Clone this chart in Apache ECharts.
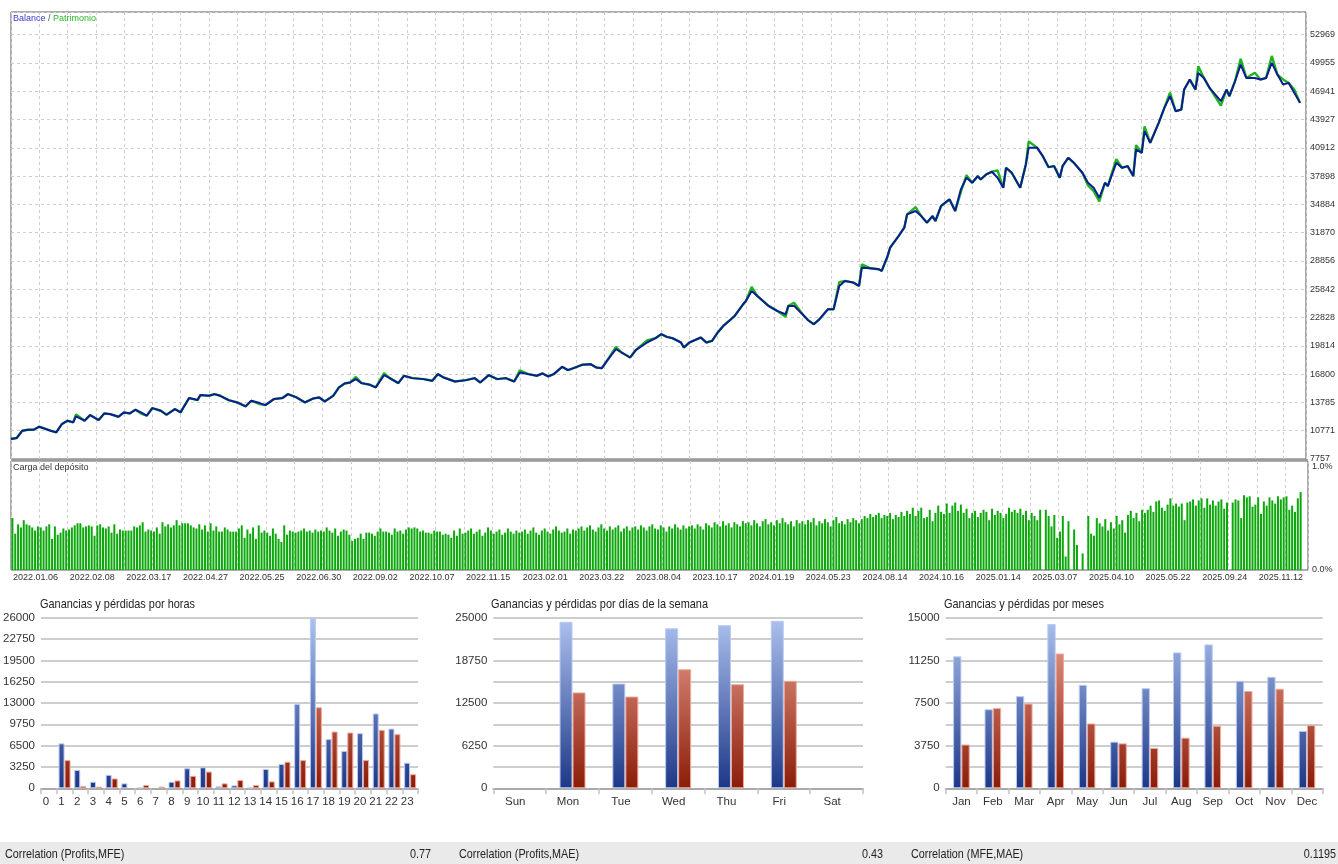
<!DOCTYPE html>
<html>
<head>
<meta charset="utf-8">
<script src="https://cdn.jsdelivr.net/npm/echarts/dist/echarts.min.js"></script>
<style>html,body{margin:0;padding:0;background:#fff}#c{width:1338px;height:864px}</style>
</head>
<body>
<div id="c"></div>
<script>
// ---------- DATA ----------
const dateLabels = ['2022.01.06','2022.02.08','2022.03.17','2022.04.27','2022.05.25','2022.06.30','2022.09.02','2022.10.07','2022.11.15','2023.02.01','2023.03.22','2023.08.04','2023.10.17','2024.01.19','2024.05.23','2024.08.14','2024.10.16','2025.01.14','2025.03.07','2025.04.10','2025.05.22','2025.09.24','2025.11.12'];
const yTickLabels = ['7757','10771','13785','16800','19814','22828','25842','28856','31870','34884','37898','40912','43927','46941','49955','52969'];

// deal index positions of the traced balance / equity points
const balanceX = [0,2,4,6,8,10,12,14,16,18,20,22,23,26,28,31,33,35,38,40,42,44,46,48,50,53,55,58,60,61,63,66,67,70,72,74,77,80,83,85,88,90,93,96,98,101,104,107,109,111,114,116,118,120,122,124,127,129,132,134,137,139,142,146,149,151,153,157,161,164,166,169,172,175,178,180,183,186,188,190,192,195,197,199,202,205,207,209,211,214,216,219,221,225,228,230,232,234,237,238,240,244,246,248,250,252,254,256,259,260,262,264,266,268,271,274,275,277,280,282,284,286,289,291,293,295,298,300,301,304,307,308,310,311,314,316,317,320,322,324,326,327,329,332,334,336,338,340,342,343,345,347,349,351,352,354,357,359,360,363,365,367,369,371,372,374,376,379,381,383,385,387,388,391,393,395,397,398,400,401,403,406,408,410,412,414,415,417,419,420,422,424,428,430,431,433,435,437,440,442,444,446,448,450,452,454,456];
const balance = [9885,9991,10771,10877,10877,11197,10984,10771,10594,11480,
11835,11658,12296,11835,12438,11906,12615,12544,12260,12721,
12615,13005,12721,12367,13182,12898,12473,13076,12721,13253,
14246,14033,14565,14494,14672,14494,14033,13785,13360,13962,
13714,13501,14139,14246,14672,14317,13785,14210,14317,13892,
14494,15380,15806,15912,16267,15841,15664,15380,16693,16374,
15841,16622,16374,16267,16090,16800,16445,16019,16161,16374,
15912,16693,16267,16374,16019,16977,16800,16622,16871,16551,
16800,17580,17225,17438,17792,17863,17508,17438,18288,19459,
19104,18572,19353,20168,20629,21054,20771,20629,20168,19636,
20168,20700,20168,20345,21233,21942,22473,23005,24246,24601,
25665,25133,24601,24069,23537,23182,24069,24069,23182,22544,
22119,22651,23715,23715,26197,26729,26552,26197,28146,28075,
27969,27792,29282,30275,31515,32402,33821,34175,33643,32934,
33643,33111,34707,35416,34175,36480,37721,37189,37898,37543,
38076,38359,37721,36657,38785,38253,36657,39140,40912,40912,
40026,38856,38962,37721,38962,39849,39317,38253,37189,36657,
35593,37189,36834,39317,38785,38962,37898,40735,40380,42686,
41444,43572,45168,46409,44813,44990,47118,48182,47118,48891,
48359,47296,45877,47118,46409,48005,49778,48359,48359,48182,
48359,49955,48714,47650,47827,46764,45700];
const equity = [9885,9991,10771,10877,10877,11197,10984,10771,10594,11480,
11835,11658,12500,11835,12438,11906,12615,12544,12260,12721,
12615,13005,12600,12367,13182,12898,12473,13076,12721,13253,
14246,14033,14565,14494,14672,14494,14033,13785,13360,13962,
13600,13501,14139,14246,14672,14317,13785,14210,14317,13892,
14494,15380,15806,15912,16500,15841,15664,15380,16900,16374,
15841,16622,16374,16267,16090,16800,16445,16019,16161,16374,
15912,16693,16267,16374,16019,17200,16800,16622,16871,16551,
16800,17580,17225,17438,17792,17863,17508,17438,18288,19700,
19104,18572,19353,20400,20629,21054,20771,20629,20168,19636,
20168,20700,20168,20345,21233,21942,22473,23005,24246,24601,
26100,25133,24601,24069,23537,22900,24069,24400,23182,22544,
22119,22651,23715,23715,26600,26729,26552,26197,28500,28075,
27969,27792,29282,30275,31515,32402,33821,34600,33643,32934,
33643,33111,34707,35416,34175,36200,38000,37189,37898,37543,
38076,38359,38500,36657,38785,38253,36657,39140,41600,40912,
40026,38856,38962,37721,38962,39849,39317,38253,36900,36300,
35200,37189,36834,39700,38785,38962,37898,41200,40380,43200,
41444,43572,45168,46800,44813,44990,47118,48182,47118,49600,
48359,47296,45400,47118,46409,48005,50400,48359,48900,48182,
48359,50700,48714,48200,47827,47100,45700];

// deposit load (%), one value per deal
const depositLoad = [
0.50,0.35,0.44,0.41,0.48,0.44,0.43,0.41,0.38,0.42,0.41,0.38,0.42,0.44,0.30,0.42,0.34,0.36,0.40,0.38,
0.39,0.41,0.43,0.45,0.45,0.41,0.42,0.43,0.42,0.33,0.43,0.44,0.41,0.40,0.42,0.36,0.44,0.35,0.39,0.38,
0.38,0.38,0.38,0.42,0.41,0.43,0.46,0.37,0.39,0.38,0.37,0.41,0.35,0.46,0.42,0.44,0.41,0.43,0.48,0.43,
0.45,0.45,0.45,0.43,0.41,0.40,0.44,0.39,0.43,0.37,0.45,0.38,0.42,0.37,0.37,0.41,0.39,0.37,0.37,0.37,
0.40,0.43,0.31,0.39,0.35,0.41,0.30,0.43,0.36,0.38,0.36,0.33,0.40,0.35,0.30,0.27,0.43,0.34,0.38,0.37,
0.36,0.37,0.38,0.40,0.37,0.38,0.36,0.39,0.37,0.38,0.37,0.41,0.38,0.36,0.40,0.33,0.37,0.39,0.38,0.34,
0.28,0.30,0.31,0.35,0.30,0.36,0.36,0.35,0.33,0.37,0.40,0.37,0.37,0.36,0.34,0.40,0.37,0.38,0.35,0.39,
0.41,0.40,0.41,0.40,0.37,0.38,0.36,0.36,0.35,0.38,0.37,0.37,0.34,0.35,0.34,0.31,0.38,0.33,0.40,0.35,
0.36,0.38,0.40,0.35,0.37,0.39,0.33,0.36,0.41,0.38,0.35,0.37,0.39,0.34,0.36,0.40,0.37,0.35,0.38,0.36,
0.37,0.39,0.35,0.38,0.41,0.36,0.34,0.38,0.40,0.37,0.35,0.39,0.42,0.38,0.36,0.37,0.40,0.35,0.39,0.38,
0.40,0.42,0.38,0.41,0.43,0.39,0.37,0.41,0.44,0.40,0.38,0.42,0.39,0.41,0.43,0.37,0.40,0.42,0.38,0.41,
0.42,0.39,0.43,0.41,0.38,0.42,0.44,0.40,0.39,0.43,0.41,0.37,0.42,0.40,0.44,0.41,0.39,0.43,0.40,0.42,
0.43,0.40,0.44,0.42,0.39,0.45,0.43,0.41,0.46,0.44,0.42,0.47,0.43,0.45,0.41,0.46,0.44,0.42,0.47,0.45,
0.46,0.43,0.48,0.45,0.42,0.47,0.49,0.44,0.46,0.43,0.48,0.45,0.50,0.46,0.44,0.47,0.42,0.48,0.45,0.47,
0.44,0.48,0.46,0.50,0.43,0.47,0.45,0.49,0.46,0.42,0.48,0.51,0.45,0.47,0.44,0.49,0.46,0.50,0.48,0.45,
0.49,0.52,0.50,0.54,0.51,0.53,0.55,0.50,0.53,0.52,0.55,0.49,0.53,0.51,0.56,0.52,0.57,0.54,0.60,0.52,
0.57,0.60,0.50,0.51,0.58,0.47,0.55,0.62,0.56,0.54,0.64,0.55,0.62,0.65,0.57,0.63,0.55,0.59,0.50,0.55,
0.57,0.51,0.55,0.58,0.56,0.48,0.59,0.53,0.57,0.55,0.50,0.54,0.60,0.56,0.58,0.55,0.59,0.53,0.57,0.48,
0.55,0.52,0.48,0.58,0.00,0.58,0.52,0.42,0.53,0.31,0.37,0.52,0.13,0.47,0.00,0.39,0.24,0.00,0.16,0.00,
0.52,0.35,0.33,0.50,0.45,0.42,0.49,0.38,0.46,0.40,0.52,0.44,0.48,0.36,0.53,0.57,0.50,0.55,0.47,0.58,
0.55,0.58,0.62,0.56,0.66,0.67,0.60,0.57,0.63,0.69,0.62,0.64,0.61,0.64,0.48,0.65,0.66,0.68,0.62,0.67,
0.69,0.60,0.69,0.63,0.67,0.62,0.66,0.68,0.59,0.65,0.00,0.65,0.68,0.67,0.50,0.72,0.70,0.71,0.61,0.63,
0.70,0.54,0.66,0.62,0.70,0.67,0.64,0.71,0.68,0.70,0.71,0.58,0.62,0.56,0.69,0.75];

const hourCats = ['0','1','2','3','4','5','6','7','8','9','10','11','12','13','14','15','16','17','18','19','20','21','22','23'];
const hourProfit = [0,6850,2800,1000,2050,750,100,0,1000,3050,3200,300,450,100,2950,3700,12850,26000,7500,5700,8400,11400,9100,3900];
const hourLoss   = [0,4300,350,250,1500,0,500,250,1200,1900,2550,750,1250,500,1050,4050,4300,12350,8650,8500,4300,8900,8250,2150];

const dayCats = ['Sun','Mon','Tue','Wed','Thu','Fri','Sat'];
const dayProfit = [0,24400,15350,23450,23900,24550,0];
const dayLoss   = [0,14050,13450,17450,15250,15750,0];

const monthCats = ['Jan','Feb','Mar','Apr','May','Jun','Jul','Aug','Sep','Oct','Nov','Dec'];
const monthProfit = [11600,6950,8100,14450,9100,4100,8800,11950,12650,9450,9800,5050];
const monthLoss   = [3850,7050,7450,11850,5700,3950,3550,4450,5500,8550,8750,5550];

const chartTitles = ['Ganancias y pérdidas por horas','Ganancias y pérdidas por días de la semana','Ganancias y pérdidas por meses'];
const corrLabels = ['Correlation (Profits,MFE)','Correlation (Profits,MAE)','Correlation (MFE,MAE)'];
const corrValues = ['0.77','0.43','0.1195'];

// ---------- LAYOUT / STYLE ----------
const SMALL = '"Liberation Sans", Arial, sans-serif';
const Y_MIN = 7757, Y_STEP = 3014.1333333, Y_MAX = 55382;
const X_MAX = 458.1;
const BOT_TOP = 617.7, BOT_H = 170.6;
const bottomGrids = [
  {left: 40.7, width: 377.3, titleX: 40, bw: 6, max: 26000, step: 3250, labelStep: 3250, cats: hourCats, p: hourProfit, l: hourLoss, pad: 6},
  {left: 493.3, width: 369.7, titleX: 491, bw: 13, max: 25000, step: 3125, labelStep: 6250, cats: dayCats, p: dayProfit, l: dayLoss, pad: 9},
  {left: 945.7, width: 377, titleX: 944, bw: 8.3, max: 15000, step: 1875, labelStep: 3750, cats: monthCats, p: monthProfit, l: monthLoss, pad: 0}
];
const corrPos = [[5, 431], [459, 883], [911, 1336]];

function grad(c1, c2) {
  return new echarts.graphic.LinearGradient(0, BOT_TOP, 0, BOT_TOP + BOT_H,
    [{offset: 0, color: c1}, {offset: 1, color: c2}], true);
}
const dashed = {color: '#cfcfcf', type: [3, 3], width: 1};

const chart = echarts.init(document.getElementById('c'), null, {renderer: 'canvas'});

const grids = [
  {left: 11, top: 12, width: 1297, height: 447, show: true, borderColor: '#5c5c5c', borderWidth: 1},
  {left: 11, top: 461, width: 1297, height: 109, show: true, borderColor: '#5c5c5c', borderWidth: 1}
];
const xAxes = [
  {gridIndex: 0, type: 'value', min: 0, max: X_MAX, interval: 10,
   axisLine: {show: false}, axisTick: {show: false}, axisLabel: {show: false},
   splitLine: {show: true, lineStyle: dashed}},
  {gridIndex: 1, type: 'value', min: 0, max: X_MAX, interval: 10,
   axisLine: {show: false}, axisTick: {show: false},
   axisLabel: {show: true, align: 'left', margin: 3, padding: [0, 0, 0, 2], fontSize: 9, color: '#333', fontFamily: SMALL,
     formatter: function (v) {
       const r = Math.round(v);
       if (Math.abs(v - r) > 1e-6 || r % 20 !== 0) return '';
       return dateLabels[r / 20] || '';
     }},
   splitLine: {show: true, lineStyle: dashed}}
];
const yAxes = [
  {gridIndex: 0, type: 'value', position: 'right', min: Y_MIN, max: Y_MAX, interval: Y_STEP,
   axisLine: {show: false}, axisTick: {show: false},
   axisLabel: {margin: 4, fontSize: 9, color: '#333', fontFamily: SMALL,
     formatter: function (v) { return yTickLabels[Math.round((v - Y_MIN) / Y_STEP)] || ''; }},
   splitLine: {show: true, lineStyle: dashed}},
  {gridIndex: 1, type: 'value', position: 'right', min: 0, max: 1.05, interval: 1,
   axisLine: {show: false}, axisTick: {show: false},
   axisLabel: {margin: 4, fontSize: 9, color: '#333', fontFamily: SMALL,
     formatter: function (v) { return (Math.abs(v) < 1e-9 || Math.abs(v - 1) < 1e-9) ? v.toFixed(1) + '%' : ''; }},
   splitLine: {show: false}}
];
const series = [
  {type: 'line', xAxisIndex: 0, yAxisIndex: 0, name: 'Patrimonio', symbol: 'none', z: 2,
   lineStyle: {color: '#1db41d', width: 2.4}, itemStyle: {color: '#1db41d'},
   data: balanceX.map((x, i) => [x, equity[i]])},
  {type: 'line', xAxisIndex: 0, yAxisIndex: 0, name: 'Balance', symbol: 'none', z: 3,
   lineStyle: {color: '#0d1c96', width: 2}, itemStyle: {color: '#0d1c96'},
   data: balanceX.map((x, i) => [x, balance[i]])},
  {type: 'bar', xAxisIndex: 1, yAxisIndex: 1, barWidth: 2, itemStyle: {color: '#0ca80c'},
   data: depositLoad.map((v, i) => [i + 0.5, v])}
];
const titles = [
  {left: 13, top: 14, padding: 0,
   text: '{b|Balance} {s|/} {p|Patrimonio}',
   textStyle: {fontSize: 9, fontWeight: 'normal', fontFamily: SMALL,
     rich: {b: {color: '#3a3acb', fontSize: 9, fontFamily: SMALL},
            s: {color: '#555', fontSize: 9, fontFamily: SMALL},
            p: {color: '#27b827', fontSize: 9, fontFamily: SMALL}}}},
  {left: 13, top: 463, padding: 0, text: 'Carga del depósito',
   textStyle: {fontSize: 9, fontWeight: 'normal', color: '#333', fontFamily: SMALL}}
];

const graphics = [
  {type: 'rect', left: 11, top: 459, z: 100, shape: {width: 1297, height: 2}, style: {fill: '#9c9c9c'}},
  {type: 'rect', left: 0, top: 842, z: 0, shape: {width: 1338, height: 22}, style: {fill: '#eaeaea'}}
];

bottomGrids.forEach(function (g, k) {
  const gi = grids.length;
  grids.push({left: g.left, top: BOT_TOP, width: g.width, height: BOT_H});
  xAxes.push({gridIndex: gi, type: 'category', data: g.cats,
    axisLine: {show: true, lineStyle: {color: '#a9a9a9', width: 2}},
    axisTick: {show: true, length: 6, lineStyle: {color: '#c4c4c4', width: 1.5}},
    axisLabel: {interval: 0, margin: 8, fontSize: 11.5, color: '#333', fontFamily: SMALL, padding: [0, g.pad, 0, 0]},
    splitLine: {show: false}});
  yAxes.push({gridIndex: gi, type: 'value', min: 0, max: g.max, interval: g.step,
    axisLine: {show: false}, axisTick: {show: false},
    axisLabel: {margin: 6, fontSize: 11.5, color: '#333', fontFamily: SMALL,
      formatter: function (v) { return (Math.round(v) % g.labelStep === 0) ? String(Math.round(v)) : ''; }},
    splitLine: {show: true, lineStyle: {color: '#cdcdcd', width: 2}}});
  graphics.push({type: 'text', x: g.titleX, y: 604, scaleX: 0.81, z: 10,
    style: {text: chartTitles[k], fill: '#222', font: '13.5px ' + SMALL, textAlign: 'left', textVerticalAlign: 'middle'}});
  series.push({type: 'bar', xAxisIndex: gi, yAxisIndex: gi, barWidth: g.bw, barGap: '0%',
    itemStyle: {color: grad('#adc2ef', '#1c3786'), borderColor: '#b9caf2', borderWidth: 1},
    data: g.p.map(v => v === 0 ? '-' : v)});
  series.push({type: 'bar', xAxisIndex: gi, yAxisIndex: gi, barWidth: g.bw, barGap: '0%',
    itemStyle: {color: grad('#eea696', '#8a1c08'), borderColor: '#f0a898', borderWidth: 1},
    data: g.l.map(v => v === 0 ? '-' : v)});
});

corrLabels.forEach(function (t, i) {
  graphics.push({type: 'text', x: corrPos[i][0], y: 854, scaleX: 0.8, z: 10,
    style: {text: t, fill: '#222', font: '13.5px ' + SMALL, textAlign: 'left', textVerticalAlign: 'middle'}});
  graphics.push({type: 'text', x: corrPos[i][1], y: 854, scaleX: 0.8, z: 10,
    style: {text: corrValues[i], fill: '#222', font: '13.5px ' + SMALL, textAlign: 'right', textVerticalAlign: 'middle'}});
});

chart.setOption({
  animation: false,
  backgroundColor: '#ffffff',
  title: titles,
  grid: grids,
  xAxis: xAxes,
  yAxis: yAxes,
  series: series,
  graphic: graphics
});
</script>
</body>
</html>
